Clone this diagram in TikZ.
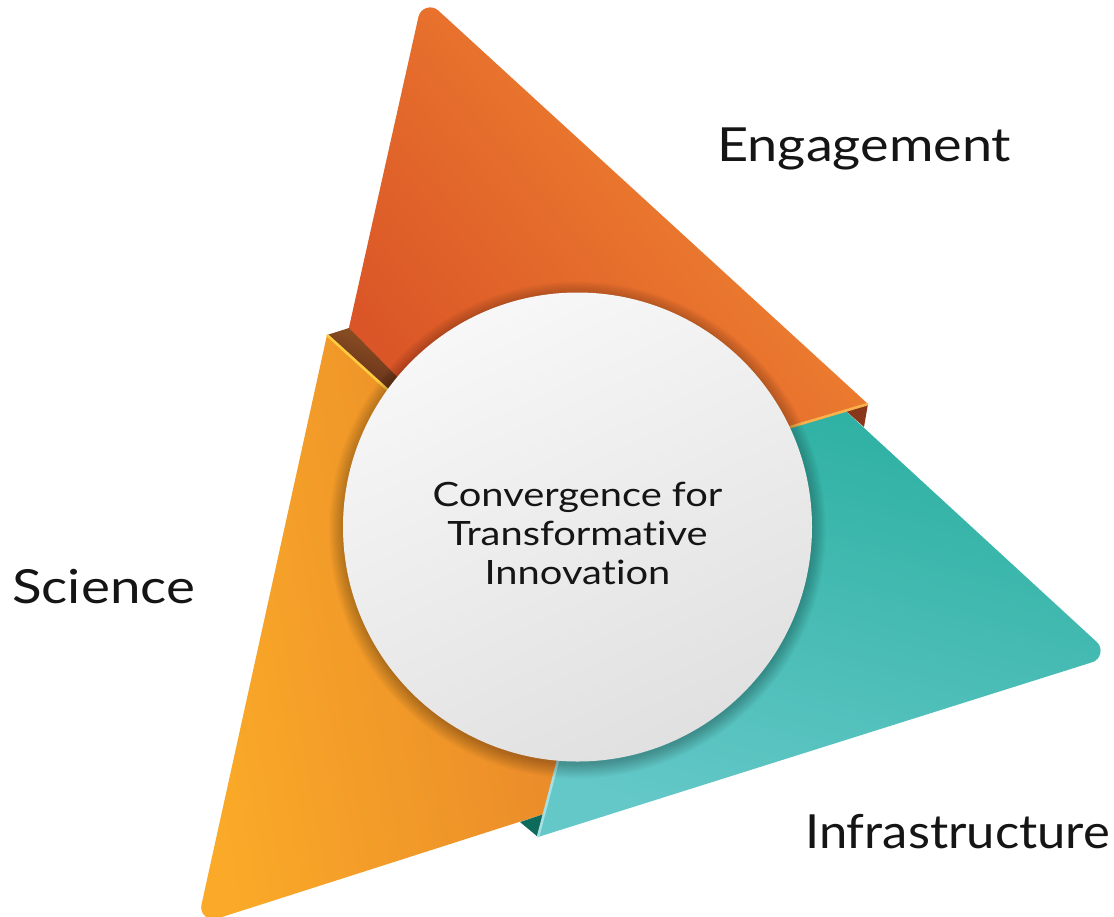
\documentclass[tikz,border=0pt]{standalone}
\usepackage{fontspec}
\setmainfont{Lato}[Ligatures=NoCommon]
\newfontfamily\engfont{Lato}[Ligatures=NoCommon, FakeStretch=1.15]
\newfontfamily\scifont{Lato}[Ligatures=NoCommon, FakeStretch=1.165]
\newfontfamily\inffont{Lato}[Ligatures=NoCommon, FakeStretch=1.08]
\newfontfamily\cenfont{Lato}[Ligatures=NoCommon, FakeStretch=1.19]
\usetikzlibrary{calc}
\definecolor{orA}{HTML}{DA5527}
\definecolor{orB}{HTML}{F38B32}
\definecolor{yeA}{HTML}{FAAA28}
\definecolor{yeB}{HTML}{E8872A}
\definecolor{teA}{HTML}{28AE9E}
\definecolor{teB}{HTML}{64C8C8}
\definecolor{brA}{HTML}{925424}
\definecolor{brB}{HTML}{5A2818}
\definecolor{brC}{HTML}{8A361C}
\definecolor{tdark}{HTML}{0E6A5A}
\definecolor{hiO}{HTML}{F9B24C}
\definecolor{hiY}{HTML}{FFCC40}
\definecolor{hiT}{HTML}{A6E0E2}
\definecolor{txt}{HTML}{151515}
\tikzset{
  label/.style={inner sep=0pt, anchor=base west, text=txt},
  centre/.style={inner sep=0pt, anchor=base, text=txt, align=center},
  hilite/.style={line width=2.6pt, line cap=butt},
}
\begin{document}
\begin{tikzpicture}[x=1pt,y=-1pt]
\useasboundingbox (0,0) rectangle (1114,916);
% key points
\coordinate (OA) at (423,-3.5);
\coordinate (OR) at (868,404);
\coordinate (OB1) at (700,453);
\coordinate (OB2) at (420,412);
\coordinate (OL) at (335,390);
\coordinate (YT) at (327,335);
\coordinate (YI1) at (560,545);
\coordinate (YI2) at (566,730);
\coordinate (YC) at (544,814);
\coordinate (YA) at (197,925);
\coordinate (TS) at (800,369);
\coordinate (TA) at (1112,656);
\coordinate (TB) at (538,837);
\coordinate (TI1) at (650,480);
\coordinate (TI2) at (760,420);
\coordinate (FL) at (349,328);
\coordinate (C) at (577.5,527);
% rounded tips: tangent points and control points
\coordinate (Ta1) at ($(TA)!20.8pt!(TS)$);
\coordinate (Ta2) at ($(TA)!20.8pt!(TB)$);
\coordinate (Oa1) at ($(OA)!20.8pt!(OL)$);
\coordinate (Oa2) at ($(OA)!20.8pt!(OR)$);
\coordinate (Ya1) at ($(YA)!20.8pt!(YC)$);
\coordinate (Ya2) at ($(YA)!20.8pt!(YT)$);
% teal (Infrastructure)
\shade[top color=teA, bottom color=teB, shading angle=-15]
  (TS) -- (Ta1) .. controls ($(Ta1)!0.444!(TA)$) and ($(Ta2)!0.444!(TA)$) .. (Ta2)
  -- (TB) -- (YI2) -- (TI1) -- (TI2) -- cycle;
% orange (Engagement)
\shade[top color=orB, bottom color=orA, shading angle=-50]
  (OL) -- (Oa1) .. controls ($(Oa1)!0.444!(OA)$) and ($(Oa2)!0.444!(OA)$) .. (Oa2)
  -- (OR) -- (OB1) -- (OB2) -- cycle;
% fold of orange at right
\fill[brC] (846,411) -- (OR) -- (864,427) -- cycle;
\draw[hiO, hilite] (OR) -- (760,436);
% fold of orange at left
\shade[top color=brA, bottom color=brB, shading angle=-20]
  (YT) -- (FL) -- (412,392) -- (400,401) -- cycle;
% yellow (Science)
\shade[left color=yeA, right color=yeB, shading angle=100]
  (YT) -- (YI1) -- (YI2) -- (YC) -- (Ya1) .. controls ($(Ya1)!0.444!(YA)$) and ($(Ya2)!0.444!(YA)$) .. (Ya2) -- cycle;
\draw[hiY, hilite] (YT) -- (400,401);
% fold of teal at bottom
\fill[tdark] (520,822) -- (YC) -- (TB) -- cycle;
\draw[hiT, hilite] (TB) -- (YI2);
% shadow of the disc
\foreach \i in {1,...,14}
  \fill[black, opacity=0.018] ($(C)+(0,3)$) circle ({233+\i*1.1});
% disc
\shade[top color=white!97!black, bottom color=white!88!black, shading angle=25]
  (C) circle (234.5);
\node[centre, font=\cenfont\fontsize{33.5}{39}\selectfont] (ctext) at (577.5,584) {Convergence for\\Transformative\\Innovation};
% labels
\node[label, font=\engfont\fontsize{47}{50}\selectfont] (eng) at (717,161) {Engagement};
\node[label, font=\scifont\fontsize{47}{50}\selectfont] (sci) at (12,603) {Science};
\node[label, font=\inffont\fontsize{47}{50}\selectfont] (inf) at (805,848) {Infrastructure};
\end{tikzpicture}
\end{document}
